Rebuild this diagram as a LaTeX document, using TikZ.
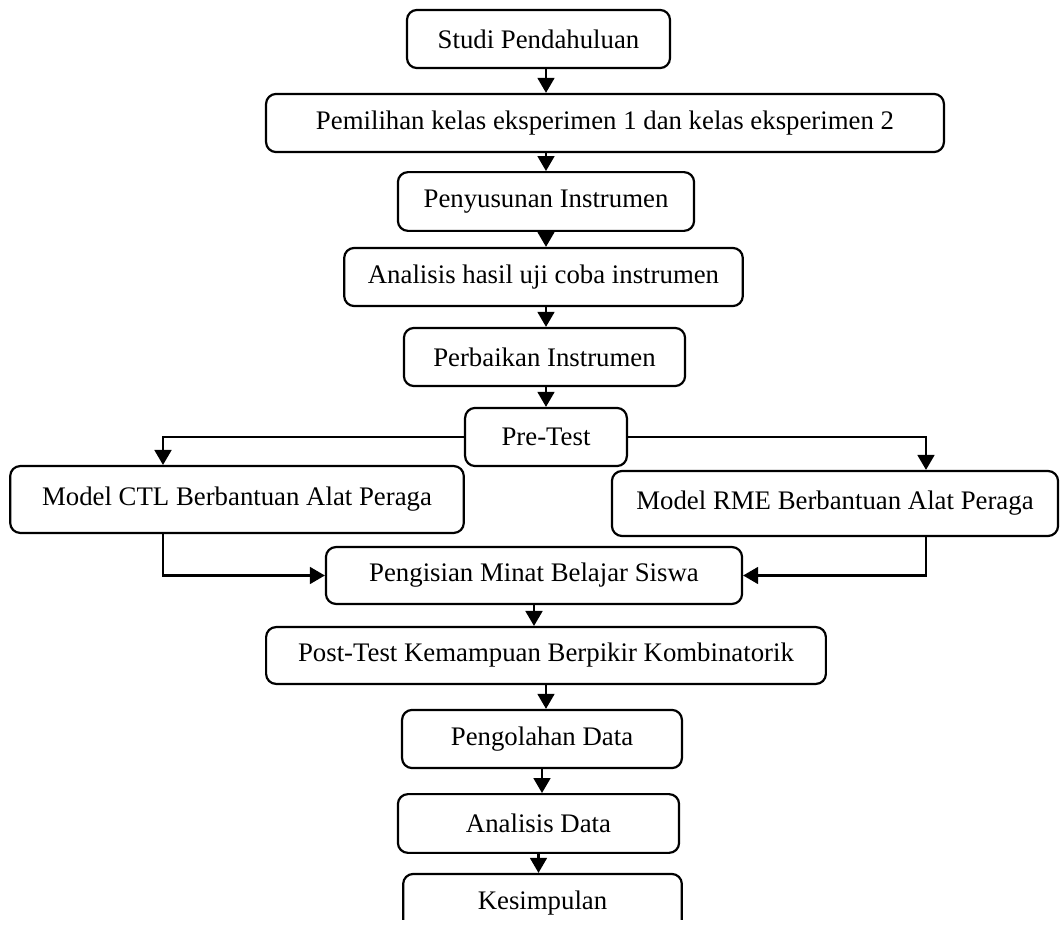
\documentclass[tikz,border=0pt]{standalone}
\usepackage{fontspec}
\setmainfont{Liberation Serif}
\usetikzlibrary{arrows.meta}
\tikzset{stage/.style={
		draw,
		line width=1pt,
		rounded corners=0.16cm,
		align=center,
		inner sep=0pt,
		minimum height=0.93cm,
		font=\fontsize{12.2}{14}\selectfont},
	flow/.style={
		line width=1pt,
		-{Triangle[length=0.24cm,width=0.27cm]}}}

\begin{document}
\begin{tikzpicture}[x=0.016cm,y=-0.016cm]
				\useasboundingbox (0,0) rectangle (1060,927);
				\clip (0,0) rectangle (1060,919);
				\coordinate (axis) at (546,0);
				\coordinate (ctlx) at (163,0);
				\coordinate (rmex) at (926,0);
				
				\node[stage, minimum width=4.21cm] (studi) at (538.5,39) {Studi Pendahuluan};
				\node[stage, minimum width=10.85cm] (pemilihan) at (605,123) {Pemilihan kelas eksperimen 1 dan kelas eksperimen 2};
				\node[stage, minimum width=4.74cm, minimum height=0.94cm] (penyusunan) at (546,201.5) {Penyusunan Instrumen};
				\node[stage, minimum width=6.38cm] (ujicoba) at (543.5,277) {Analisis hasil uji coba instrumen};
				\node[stage, minimum width=4.50cm] (perbaikan) at (544.5,357) {Perbaikan Instrumen};
				\node[stage, minimum width=2.59cm] (pretest) at (546,437) {Pre-Test};
				\node[stage, minimum width=7.26cm, minimum height=1.07cm] (ctl) at (237,499.5) {Model CTL Berbantuan Alat Peraga};
				\node[stage, minimum width=7.14cm, minimum height=1.04cm] (rme) at (835,503.5) {Model RME Berbantuan Alat Peraga};
				\node[stage, minimum width=6.66cm, minimum height=0.91cm] (minat) at (534,575.5) {Pengisian Minat Belajar Siswa};
				\node[stage, minimum width=8.96cm, minimum height=0.91cm] (posttest) at (546,655.5) {Post-Test Kemampuan Berpikir Kombinatorik};
				\node[stage, minimum width=4.48cm] (olah) at (542,739) {Pengolahan Data};
				\node[stage, minimum width=4.50cm, minimum height=0.94cm] (analisis) at (538.5,823.5) {Analisis Data};
				\node[stage, minimum width=4.46cm] (simpul) at (542.5,903) {Kesimpulan};
				
				\draw[flow] (studi.south -| axis) -- (pemilihan.north -| axis);
				\draw[flow] (pemilihan.south -| axis) -- (penyusunan.north -| axis);
				\draw[flow] (penyusunan.south -| axis) -- (ujicoba.north -| axis);
				\draw[flow] (ujicoba.south -| axis) -- (perbaikan.north -| axis);
				\draw[flow] (perbaikan.south -| axis) -- (pretest.north -| axis);
				\draw[flow] (pretest.west) -| (ctlx |- ctl.north);
				\draw[flow] (pretest.east) -| (rmex |- rme.north);
				\draw[flow] (ctlx |- ctl.south) |- (minat.west);
				\draw[flow] (rmex |- rme.south) |- (minat.east);
				\draw[flow] (minat.south) -- (minat.south |- posttest.north);
				\draw[flow] (posttest.south) -- (posttest.south |- olah.north);
				\draw[flow] (olah.south) -- (olah.south |- analisis.north);
				\draw[flow] (analisis.south) -- (analisis.south |- simpul.north);
			\end{tikzpicture}
\end{document}
